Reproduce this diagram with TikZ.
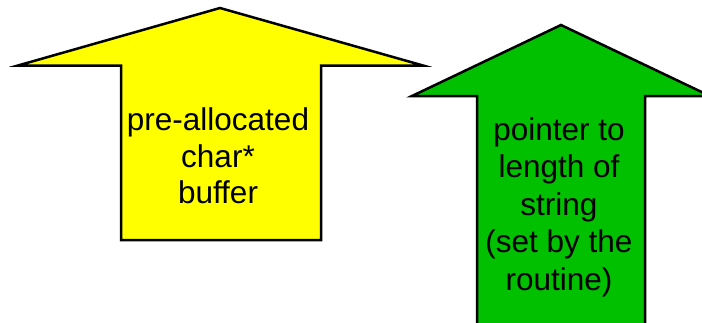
\documentclass[tikz,border=0pt]{standalone}
\usepackage{fontspec}
\setmainfont{Liberation Sans}
\definecolor{bufyellow}{RGB}{255,255,0}
\definecolor{lengreen}{RGB}{0,192,0}
\begin{document}
\begin{tikzpicture}[x=1pt,y=-1pt,
  arrowshape/.style={draw=black,line width=2.5pt,line join=miter},
  label/.style={inner sep=0pt,align=center,text=black,
    font=\fontsize{31.5}{36.5}\selectfont}]
\useasboundingbox (0,0) rectangle (702,322);
\clip (0,0) rectangle (702,322);
% block arrow: pre-allocated buffer
\fill[bufyellow] (121,240) -- (121,65.5) -- (18,65.5) -- (220,8) -- (423,65.5)
  -- (321,65.5) -- (321,240) -- cycle;
\draw[arrowshape] (121,240) -- (121,65.5) -- (18,65.5) -- (220,8) -- (423,65.5)
  -- (321,65.5) -- (321,240) -- cycle;
% block arrow: length pointer
\fill[lengreen] (477,340) -- (477,96) -- (412,96) -- (561,25) -- (710,96)
  -- (645,96) -- (645,340) -- cycle;
\draw[arrowshape] (477,340) -- (477,96) -- (412,96) -- (561,25) -- (710,96)
  -- (645,96) -- (645,340) -- cycle;
\node[label] (buf) at (218,156) {pre-allocated\\char*\\buffer};
\node[label,font=\fontsize{31.5}{37.5}\selectfont] (len) at (559,207)
  {pointer to\\length of\\string\\(set by the\\routine)};
\end{tikzpicture}
\end{document}
